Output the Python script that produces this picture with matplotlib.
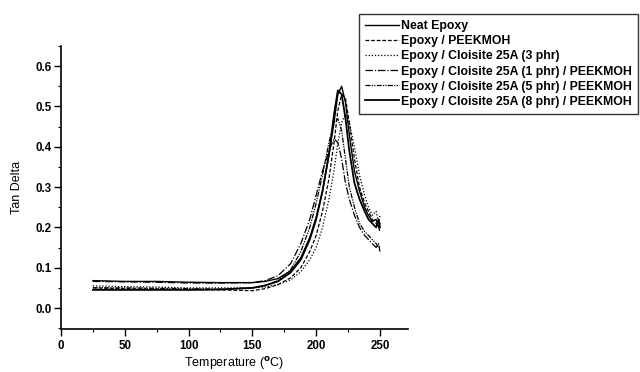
import matplotlib

matplotlib.use("Agg")
import matplotlib.pyplot as plt
from matplotlib.ticker import MultipleLocator

plt.rcParams["font.family"] = ["Liberation Sans", "DejaVu Sans"]
plt.rcParams["font.weight"] = "bold"

# DMA tan delta traces, shared temperature grid (°C)
temperature = [25, 50, 75, 100, 125, 150, 160, 170, 180, 188, 195, 200, 205, 210,
               214, 217, 220, 223, 226, 230, 234, 238, 241, 244, 247, 249, 250]

neat_epoxy = [0.068, 0.066, 0.066, 0.064, 0.063, 0.063, 0.066, 0.073, 0.092, 0.125,
              0.175, 0.225, 0.29, 0.38, 0.46, 0.53, 0.55, 0.51, 0.43, 0.34, 0.29,
              0.25, 0.23, 0.215, 0.22, 0.20, 0.21]
epoxy_peekmoh = [0.050, 0.048, 0.047, 0.046, 0.045, 0.043, 0.048, 0.058, 0.075, 0.10,
                 0.14, 0.18, 0.24, 0.32, 0.41, 0.49, 0.53, 0.52, 0.46, 0.37, 0.30,
                 0.26, 0.24, 0.22, 0.21, 0.20, 0.19]
c25a_3 = [0.055, 0.053, 0.052, 0.050, 0.050, 0.050, 0.052, 0.058, 0.070, 0.09,
          0.12, 0.15, 0.20, 0.27, 0.34, 0.41, 0.46, 0.48, 0.46, 0.40, 0.33,
          0.28, 0.25, 0.23, 0.24, 0.21, 0.23]
c25a_1_peek = [0.066, 0.065, 0.064, 0.062, 0.062, 0.063, 0.068, 0.080, 0.11, 0.16,
               0.22, 0.28, 0.34, 0.39, 0.42, 0.41, 0.37, 0.31, 0.27, 0.23, 0.20,
               0.18, 0.17, 0.16, 0.15, 0.16, 0.14]
c25a_5_peek = [0.050, 0.050, 0.049, 0.048, 0.047, 0.050, 0.056, 0.068, 0.095, 0.14,
               0.20, 0.26, 0.33, 0.41, 0.46, 0.47, 0.44, 0.37, 0.30, 0.25, 0.21,
               0.19, 0.18, 0.17, 0.16, 0.15, 0.15]
c25a_8_peek = [0.045, 0.045, 0.045, 0.045, 0.046, 0.050, 0.056, 0.066, 0.088, 0.12,
               0.17, 0.22, 0.29, 0.38, 0.48, 0.54, 0.53, 0.47, 0.39, 0.31, 0.27,
               0.24, 0.22, 0.21, 0.20, 0.22, 0.20]

labels = ["Neat Epoxy", "Epoxy / PEEKMOH", "Epoxy / Cloisite 25A (3 phr)",
          "Epoxy / Cloisite 25A (1 phr) / PEEKMOH",
          "Epoxy / Cloisite 25A (5 phr) / PEEKMOH",
          "Epoxy / Cloisite 25A (8 phr) / PEEKMOH"]
series = [neat_epoxy, epoxy_peekmoh, c25a_3, c25a_1_peek, c25a_5_peek, c25a_8_peek]
styles = ["-", (0, (3, 1.5)), (0, (1, 1.5)), (0, (6, 1.5, 1, 1.5)),
          (0, (4, 1, 1, 1, 1, 1)), "-"]
widths = [1.0, 0.9, 0.9, 0.9, 0.9, 1.3]

fig = plt.figure(figsize=(6.4, 3.72), dpi=100)
ax = fig.add_axes([0.0953, 0.1156, 0.5422, 0.7608])

for y, lab, ls, lw in zip(series, labels, styles, widths):
    ax.plot(temperature, y, color="black", linestyle=ls, linewidth=lw, label=lab)

ax.set_xlim(0, 272)
ax.set_ylim(-0.052, 0.65)
ax.set_xticks([0, 50, 100, 150, 200, 250])
ax.set_yticks([0.0, 0.1, 0.2, 0.3, 0.4, 0.5, 0.6])
ax.xaxis.set_minor_locator(MultipleLocator(25))
ax.yaxis.set_minor_locator(MultipleLocator(0.05))
ax.tick_params(which="major", direction="out", length=5, width=1, labelsize=8.3)
ax.tick_params(axis="x", which="major", pad=3)
ax.tick_params(axis="y", which="major", pad=2)
ax.tick_params(which="minor", direction="out", length=2.5, width=0.8)
for side in ("top", "right"):
    ax.spines[side].set_visible(False)
for side in ("left", "bottom"):
    ax.spines[side].set_linewidth(1.2)

ax.set_xlabel("Temperature ($^{\\mathbf{o}}$C)", fontsize=9, labelpad=2)
ax.set_ylabel("Tan Delta", fontsize=9, labelpad=9)

leg = fig.legend(loc="upper left", bbox_to_anchor=(0.561, 0.962),
                 bbox_transform=fig.transFigure, fontsize=8.85, frameon=True,
                 fancybox=False, edgecolor="black", handlelength=2.75,
                 handletextpad=0.2, labelspacing=0.25, borderpad=0.5,
                 borderaxespad=0)
leg.get_frame().set_linewidth(1.0)

fig.savefig("out.png", dpi=100)
